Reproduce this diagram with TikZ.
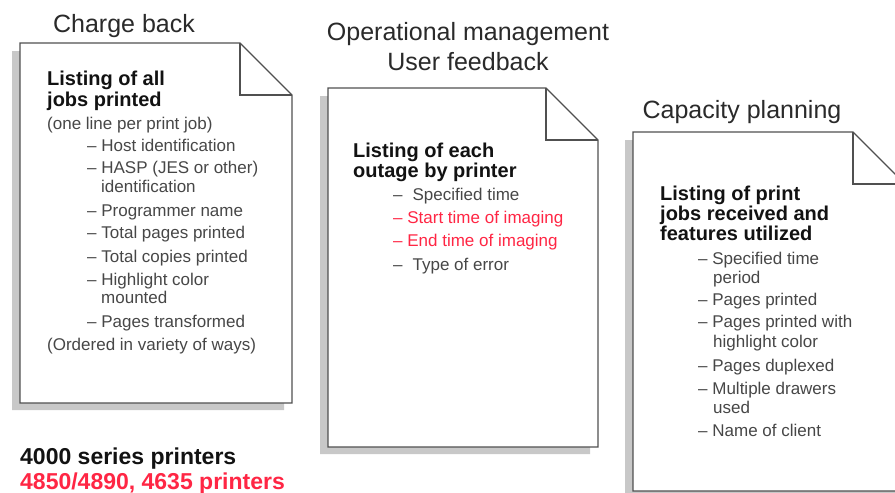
\documentclass[tikz,border=0pt]{standalone}
\usepackage{fontspec}
\setmainfont{Liberation Sans}
\definecolor{ttlc}{HTML}{2A2A2A}
\definecolor{boldc}{HTML}{121212}
\definecolor{itemc}{HTML}{474747}
\definecolor{redc}{HTML}{FF2644}
\definecolor{bordc}{HTML}{505050}
\definecolor{shadc}{HTML}{C8C8C8}
\newcommand\drawdocpage[5]{%
  \fill[shadc] (#1-8,#2+8) -- (#3-#5-8,#2+8) -- (#3-8,#2+#5+8) -- (#3-8,#4+7) -- (#1-8,#4+7) -- cycle;
  \filldraw[fill=white,draw=bordc,line width=1.4pt] (#1,#2) -- (#3-#5,#2) -- (#3,#2+#5) -- (#3,#4) -- (#1,#4) -- cycle;
  \draw[bordc,line width=1.2pt] (#3-#5,#2) -- (#3-#5,#2+#5) -- (#3,#2+#5);
}
\tikzset{
  ttl/.style={anchor=base,inner sep=0pt,text=ttlc,font=\fontsize{25}{30}\selectfont},
  hd/.style={anchor=base west,inner sep=0pt,text=boldc,font=\fontsize{20}{24}\selectfont\bfseries},
  itm/.style={anchor=base west,inner sep=0pt,text=itemc,font=\fontsize{17}{20}\selectfont},
  ritm/.style={itm,text=redc},
  big/.style={anchor=base west,inner sep=0pt,text=boldc,font=\fontsize{23}{27}\selectfont\bfseries},
}
\begin{document}
\begin{tikzpicture}[x=1pt,y=-1pt]
\useasboundingbox (0,0) rectangle (895,493);
\clip (0,0) rectangle (895,493);
\fill[white] (0,0) rectangle (895,493);

% pages
\drawdocpage{20}{43}{292}{403}{52}
\drawdocpage{328}{88}{598}{447}{52}
\drawdocpage{633}{132}{905}{491}{52}

% titles
\node[ttl] (t1) at (124,32) {Charge back};
\node[ttl] (t2a) at (468,40) {Operational management};
\node[ttl] (t2b) at (468,70) {User feedback};
\node[ttl] (t3) at (742,118) {Capacity planning};

% page 1
\node[hd] (p1h1) at (47,85) {Listing of all};
\node[hd] (p1h2) at (47,106) {jobs printed};
\node[itm] (p1s) at (47,129) {(one line per print job)};
\node[itm] (p1a) at (87,151) {– Host identification};
\node[itm] (p1b) at (87,173) {– HASP (JES or other)};
\node[itm] (p1b2) at (101,192) {identification};
\node[itm] (p1c) at (87,216) {– Programmer name};
\node[itm] (p1d) at (87,238) {– Total pages printed};
\node[itm] (p1e) at (87,262) {– Total copies printed};
\node[itm] (p1f) at (87,285) {– Highlight color};
\node[itm] (p1f2) at (101,303) {mounted};
\node[itm] (p1g) at (87,327) {– Pages transformed};
\node[itm] (p1o) at (47,350) {(Ordered in variety of ways)};

% page 2
\node[hd] (p2h1) at (353,157) {Listing of each};
\node[hd] (p2h2) at (353,177) {outage by printer};
\node[itm] (p2a) at (393,200) {–\hspace{10pt}Specified time};
\node[ritm] (p2b) at (393,223) {– Start time of imaging};
\node[ritm] (p2c) at (393,246) {– End time of imaging};
\node[itm] (p2d) at (393,270) {–\hspace{10pt}Type of error};

% page 3
\node[hd] (p3h1) at (660,200) {Listing of print};
\node[hd] (p3h2) at (660,220) {jobs received and};
\node[hd] (p3h3) at (660,240) {features utilized};
\node[itm] (p3a) at (698,264) {– Specified time};
\node[itm] (p3a2) at (713,283) {period};
\node[itm] (p3b) at (698,305) {– Pages printed};
\node[itm] (p3c) at (698,327) {– Pages printed with};
\node[itm] (p3c2) at (713,347) {highlight color};
\node[itm] (p3d) at (698,371) {– Pages duplexed};
\node[itm] (p3e) at (698,394) {– Multiple drawers};
\node[itm] (p3e2) at (713,413) {used};
\node[itm] (p3f) at (698,436) {– Name of client};

% bottom legend
\node[big] (lg1) at (20,464) {4000 series printers};
\node[big,text=redc] (lg2) at (20,489) {4850/4890, 4635 printers};
\end{tikzpicture}
\end{document}
